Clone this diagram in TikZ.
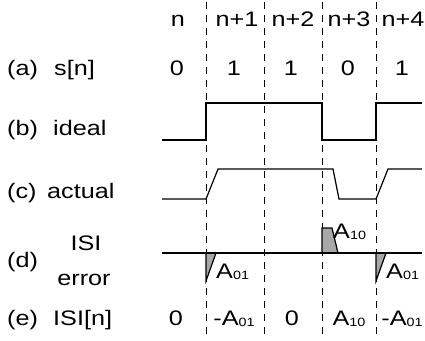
\documentclass[tikz,border=0pt]{standalone}
\usepackage{fontspec}
\setmainfont{Liberation Sans}[FakeStretch=1.2]
\definecolor{errfill}{HTML}{A8A8A8}
\newcommand{\subsc}[1]{\raisebox{-1pt}{\fontsize{12}{12}\selectfont #1}}
\tikzset{
  lbl/.style={anchor=base west,inner sep=0pt,font=\fontsize{21}{25}\selectfont},
  val/.style={anchor=base,inner sep=0pt,font=\fontsize{21}{25}\selectfont},
  grid/.style={line width=1pt,dash pattern=on 7pt off 6pt},
  wave/.style={line width=1.2pt,line join=miter},
  err/.style={fill=errfill,draw=black,line width=1.2pt}
}
\begin{document}
\begin{tikzpicture}[x=1pt,y=-1pt]
\path[use as bounding box,fill=white] (0,0) rectangle (425,340);
% dashed grid lines
\foreach \gx in {206,264,322,376}{\draw[grid] (\gx,2) -- (\gx,340);}
% header
\node[val] (h0) at (178,26) {n};
\node[val] (h1) at (237,26) {n+1};
\node[val] (h2) at (293,26) {n+2};
\node[val] (h3) at (349,26) {n+3};
\node[val] (h4) at (403,26) {n+4};
% row a
\node[lbl] (la) at (7,75) {(a)};
\node[lbl] (sa) at (54,75) {s[n]};
\node[val] (a0) at (177,75) {0};
\node[val] (a1) at (234,75) {1};
\node[val] (a2) at (291,75) {1};
\node[val] (a3) at (348,75) {0};
\node[val] (a4) at (402,75) {1};
% row b
\node[lbl] (lb) at (7,135) {(b)};
\node[lbl] (sb) at (53,135) {ideal};
\draw[wave] (162,140) -- (206,140) -- (206,103) -- (322,103) -- (322,140) -- (376,140) -- (376,103) -- (422,103);
% row c
\node[lbl] (lc) at (7,198) {(c)};
\node[lbl] (sc) at (47,198) {actual};
\draw[wave] (162,199) -- (206,199) -- (218,169) -- (333,169) -- (339,199) -- (376,199) -- (388,169) -- (422,169);
% row d
\node[lbl] (ld) at (7,267) {(d)};
\node[val] (sd1) at (86,250) {ISI};
\node[val] (sd2) at (84,285) {error};
\draw[err] (206,253) -- (206,281) -- (216,253) -- cycle;
\draw[err] (322,253) -- (322,228) -- (332,228) -- (338,253) -- cycle;
\draw[err] (376,253) -- (376,281) -- (386,253) -- cycle;
\draw[wave] (162,253) -- (422,253);
\node[lbl] (e1) at (216,278) {A\subsc{01}};
\node[lbl] (e2) at (333,238) {A\subsc{10}};
\node[lbl] (e3) at (386,278) {A\subsc{01}};
% row e
\node[lbl] (le) at (7,325) {(e)};
\node[lbl] (se) at (53,325) {ISI[n]};
\node[val] (v0) at (176,325) {0};
\node[val] (v1) at (234,325) {-A\subsc{01}};
\node[val] (v2) at (292,325) {0};
\node[val] (v3) at (349,325) {A\subsc{10}};
\node[val] (v4) at (402,325) {-A\subsc{01}};
\end{tikzpicture}
\end{document}
